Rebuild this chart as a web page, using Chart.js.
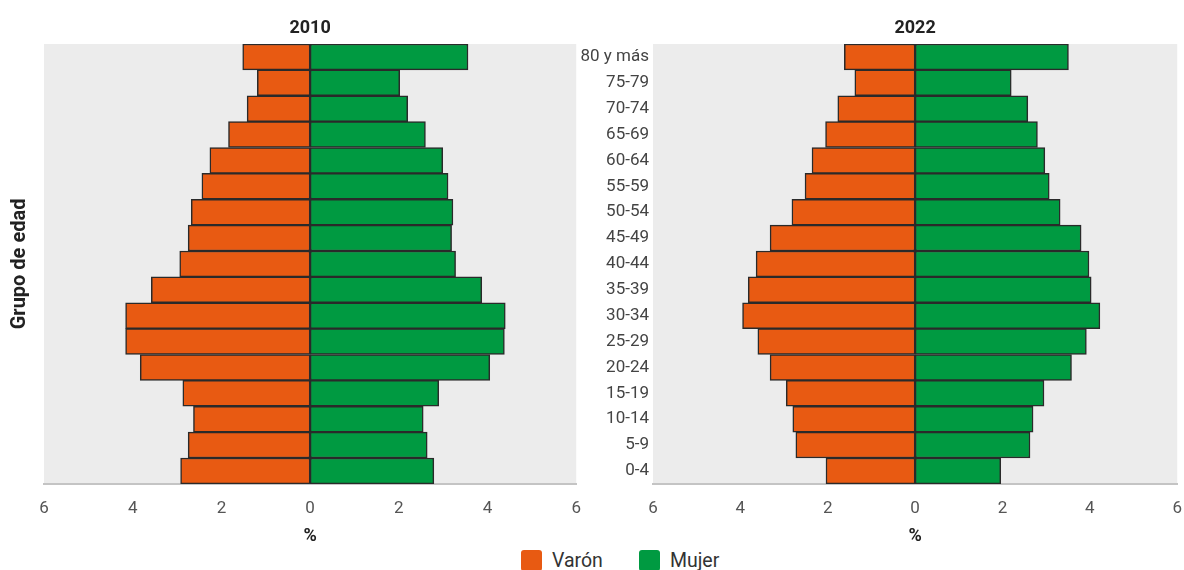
<!DOCTYPE html>
<html>
<head>
<meta charset="utf-8">
<script src="https://cdn.jsdelivr.net/npm/chart.js@4"></script>
<style>
  html, body { margin: 0; padding: 0; background: #fff; overflow: hidden; }
  body { width: 1184px; height: 570px; position: relative; font-family: Roboto, sans-serif; }
  canvas { position: absolute; top: 0; }
  #c2010 { left: 0; }
  #c2022 { left: 570px; }
  #legend { position: absolute; top: 549px; left: 521px; display: flex; align-items: center; font-size: 19.5px; color: #333; }
  #legend .item { display: flex; align-items: center; margin-right: 36px; }
  #legend .box { width: 21px; height: 21px; border-radius: 3px; margin-right: 10px; }
</style>
</head>
<body>
<canvas id="c2010" width="597" height="541"></canvas>
<canvas id="c2022" width="628" height="541"></canvas>
<div id="legend"></div>
<script>
// Grupos de edad (de arriba hacia abajo)
const grupos = ['80 y más', '75-79', '70-74', '65-69', '60-64', '55-59', '50-54', '45-49',
  '40-44', '35-39', '30-34', '25-29', '20-24', '15-19', '10-14', '5-9', '0-4'];

// Porcentajes 2010
const varon2010 = [1.52, 1.19, 1.42, 1.84, 2.26, 2.44, 2.68, 2.75, 2.94, 3.58, 4.16, 4.16, 3.83, 2.87, 2.63, 2.75, 2.92];
const mujer2010 = [3.56, 2.02, 2.20, 2.60, 2.99, 3.11, 3.22, 3.19, 3.28, 3.87, 4.40, 4.38, 4.05, 2.90, 2.55, 2.64, 2.79];

// Porcentajes 2022
const varon2022 = [1.62, 1.38, 1.77, 2.05, 2.36, 2.52, 2.82, 3.32, 3.64, 3.82, 3.95, 3.60, 3.32, 2.95, 2.80, 2.73, 2.04];
const mujer2022 = [3.51, 2.20, 2.58, 2.80, 2.97, 3.07, 3.32, 3.80, 3.98, 4.03, 4.23, 3.92, 3.58, 2.95, 2.70, 2.63, 1.96];

const xTicks = [-6, -4, -2, 0, 2, 4, 6];
const series = ['Varón', 'Mujer'];
const colores = ['#E85A12', '#009A41'];

const FONT = 'Roboto, "Noto Sans", sans-serif';

// Fondo gris del área del gráfico + título del panel centrado sobre el área
const panelPlugin = {
    id: 'panel',
    beforeDraw(chart, args, opts) {
        const { ctx, chartArea: a } = chart;
        ctx.save();
        ctx.fillStyle = '#ECECEC';
        ctx.fillRect(a.left, a.top, a.right - a.left, a.bottom - a.top);
        ctx.restore();
    },
    afterDraw(chart, args, opts) {
        const { ctx, chartArea: a } = chart;
        ctx.save();
        ctx.fillStyle = '#222';
        ctx.font = 'bold 18px ' + FONT;
        ctx.textAlign = 'center';
        ctx.textBaseline = 'middle';
        ctx.fillText(opts.text, (a.left + a.right) / 2, 28);
        ctx.restore();
    }
};

function crearPiramide(id, titulo, varon, mujer, conEtiquetas) {
    const ctx = document.getElementById(id);
    return new Chart(ctx, {
        type: 'bar',
        data: {
            labels: grupos,
            datasets: [
                {
                    label: series[0],
                    data: varon.map(v => -v),
                    backgroundColor: colores[0],
                    borderColor: '#2a2a2a',
                    borderWidth: 1.5,
                    borderSkipped: false
                },
                {
                    label: series[1],
                    data: mujer,
                    backgroundColor: colores[1],
                    borderColor: '#2a2a2a',
                    borderWidth: 1.5,
                    borderSkipped: false
                }
            ]
        },
        options: {
            indexAxis: 'y',
            responsive: false,
            animation: false,
            layout: { padding: { top: 44, right: 0, left: 0, bottom: 0 } },
            plugins: {
                legend: { display: false },
                tooltip: { enabled: false },
                panel: { text: titulo }
            },
            scales: {
                x: {
                    stacked: true,
                    min: -6,
                    max: 6,
                    afterBuildTicks: s => { s.ticks = xTicks.map(v => ({ value: v })); },
                    grid: { display: false, drawTicks: false },
                    border: { display: true, color: '#c4c4c4', width: 2 },
                    ticks: {
                        color: '#555',
                        font: { family: FONT, size: 17, lineHeight: 1 },
                        padding: 16,
                        callback: v => Math.abs(v)
                    },
                    title: {
                        display: true,
                        text: '%',
                        color: '#222',
                        font: { family: FONT, size: 18, weight: 'bold', lineHeight: 0.45 },
                        padding: { top: 0, bottom: 0 }
                    }
                },
                y: {
                    stacked: true,
                    grid: { display: false, drawTicks: false },
                    border: { display: false },
                    ticks: {
                        display: conEtiquetas,
                        color: '#444',
                        font: { family: FONT, size: 17 },
                        padding: 4,
                        autoSkip: false
                    },
                    title: {
                        display: !conEtiquetas,
                        text: 'Grupo de edad',
                        color: '#222',
                        font: { family: FONT, size: 20, weight: 'bold' },
                        padding: { top: 8, bottom: 0 }
                    },
                    afterFit: s => { s.width = conEtiquetas ? 83 : 44; }
                }
            },
            datasets: { bar: { categoryPercentage: 1, barPercentage: 1 } }
        },
        plugins: [panelPlugin]
    });
}

crearPiramide('c2010', '2010', varon2010, mujer2010, false);
crearPiramide('c2022', '2022', varon2022, mujer2022, true);

// Leyenda
const legend = document.getElementById('legend');
series.forEach((s, i) => {
    const item = document.createElement('div');
    item.className = 'item';
    item.innerHTML = `<span class="box" style="background:${colores[i]}"></span><span>${s}</span>`;
    legend.appendChild(item);
});
</script>
</body>
</html>
